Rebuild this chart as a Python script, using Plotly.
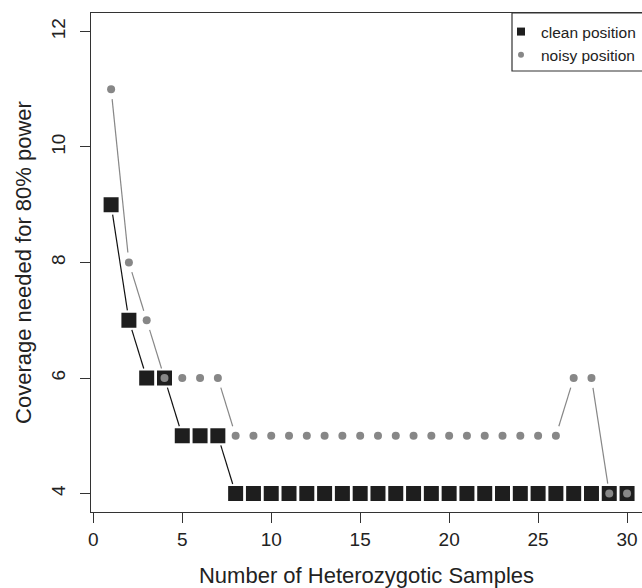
import math
import plotly.graph_objects as go

# ---- data ----
samples = list(range(1, 31))
clean_cov = [9, 7, 6, 6, 5, 5, 5] + [4] * 23
noisy_cov = [11, 8, 7, 6, 6, 6, 6] + [5] * 19 + [6, 6, 4, 4]
x_ticks = [0, 5, 10, 15, 20, 25, 30]
y_ticks = [4, 6, 8, 10, 12]

# ---- layout geometry ----
W, H = 642, 588
ML, MR, MT, MB = 91, 0, 13, 76
XR = [-0.13, 30.84]
YR = [3.68, 12.32]
PW, PH = W - ML - MR, H - MT - MB
SX = PW / (XR[1] - XR[0])
SY = PH / (YR[1] - YR[0])
GAP = 10  # pixel gap between line ends and points (R type="b")

FONT = "Liberation Sans, Arial, Helvetica, sans-serif"
CLEAN_COL = "#1e1e1e"
NOISY_COL = "#878787"
AX_COL = "#333333"


def gapped_segments(xs, ys):
    lx, ly = [], []
    for i in range(len(xs) - 1):
        x0, y0, x1, y1 = xs[i], ys[i], xs[i + 1], ys[i + 1]
        dx, dy = (x1 - x0) * SX, (y1 - y0) * SY
        dist = math.hypot(dx, dy)
        if dist > 2 * GAP:
            f = GAP / dist
            lx += [x0 + f * (x1 - x0), x1 - f * (x1 - x0), None]
            ly += [y0 + f * (y1 - y0), y1 - f * (y1 - y0), None]
    return lx, ly


fig = go.Figure()

cx, cy = gapped_segments(samples, clean_cov)
nx, ny = gapped_segments(samples, noisy_cov)

fig.add_trace(go.Scatter(x=cx, y=cy, mode="lines", line=dict(color="#111111", width=1.2),
                         showlegend=False, hoverinfo="skip"))
fig.add_trace(go.Scatter(x=samples, y=clean_cov, mode="markers", name="clean position",
                         marker=dict(symbol="square", size=15, color=CLEAN_COL, line=dict(width=0)),
                         showlegend=False))
fig.add_trace(go.Scatter(x=nx, y=ny, mode="lines", line=dict(color=NOISY_COL, width=1.2),
                         showlegend=False, hoverinfo="skip"))
fig.add_trace(go.Scatter(x=samples, y=noisy_cov, mode="markers", name="noisy position",
                         marker=dict(symbol="circle", size=8, color=NOISY_COL, line=dict(width=0)),
                         showlegend=False))

# legend-only entries with small symbols
fig.add_trace(go.Scatter(x=[None], y=[None], mode="markers", name="clean position",
                         marker=dict(symbol="square", size=8, color=CLEAN_COL, line=dict(width=0))))
fig.add_trace(go.Scatter(x=[None], y=[None], mode="markers", name="noisy position",
                         marker=dict(symbol="circle", size=6, color=NOISY_COL, line=dict(width=0))))

fig.add_shape(type="rect", xref="paper", yref="paper",
              x0=(512 - ML) / PW, x1=1.05, y0=1 - (71 - MT) / PH, y1=1,
              line=dict(color=AX_COL, width=1.2), fillcolor="rgba(0,0,0,0)")

fig.update_layout(
    width=W, height=H,
    margin=dict(l=ML, r=MR, t=MT, b=MB, pad=0, autoexpand=False),
    paper_bgcolor="white", plot_bgcolor="white",
    font=dict(family=FONT, size=18, color="#222222"),
    legend=dict(x=(501 - ML) / PW, xanchor="left", y=1 - 2 / PH, yanchor="top",
                bgcolor="rgba(0,0,0,0)", borderwidth=0,
                font=dict(size=15.5, color="#222222"), itemwidth=30,
                tracegroupgap=0),
    xaxis=dict(range=XR, showgrid=False, zeroline=False, showline=True, mirror=True,
               linecolor=AX_COL, linewidth=1.2, ticks="outside", ticklen=10, tickwidth=1.2,
               tickcolor=AX_COL, tickvals=x_ticks, tickfont=dict(size=19),
               title=dict(text="Number of Heterozygotic Samples", standoff=18)),
    yaxis=dict(range=YR, showgrid=False, zeroline=False, showline=True, mirror=False,
               linecolor=AX_COL, linewidth=1.2, ticks="outside", ticklen=10, tickwidth=1.2,
               tickcolor=AX_COL, tickvals=y_ticks, tickangle=-90, tickfont=dict(size=19),
               ticklabelstandoff=7,
               title=dict(text="Coverage needed for 80% power", standoff=10)),
)

fig.write_html("out.html")
